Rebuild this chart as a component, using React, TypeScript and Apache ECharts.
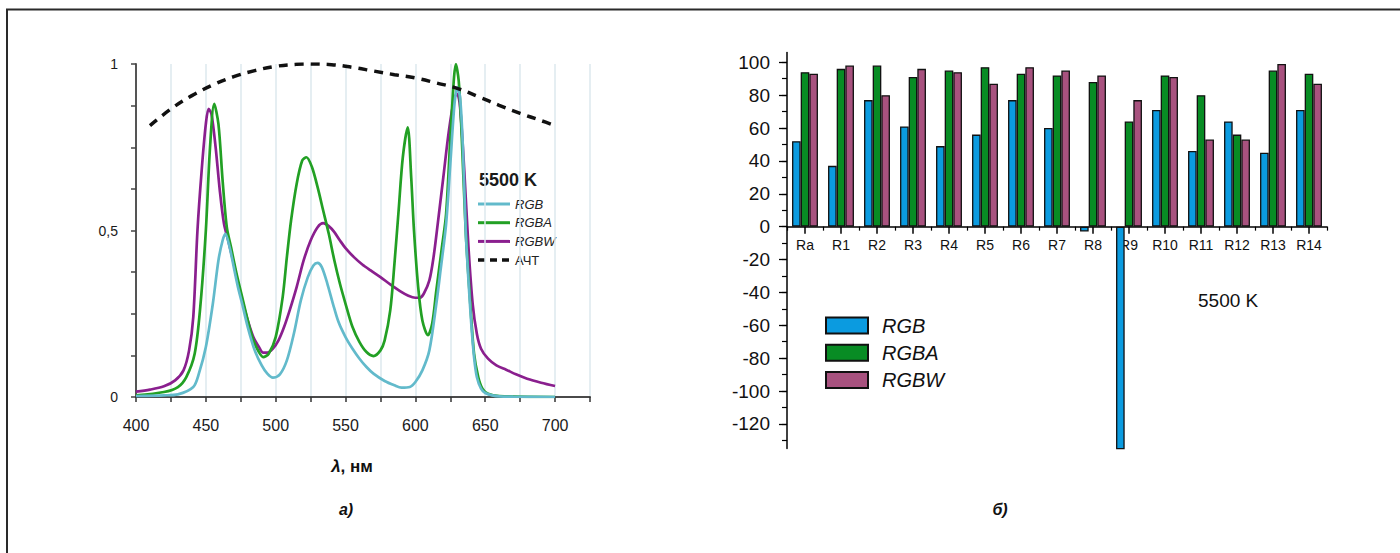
import React, { useEffect, useRef } from "react";
import * as echarts from "echarts";

// ---------- Spectra (left chart) ----------
const rgbWl = [400,420,430,441,445,450,455,459,462,464,467,470,473,476,480,485,490,494,498,503,508,513,518,523,527,530,533,537,541,545,550,555,560,565,570,578,585,590,596,600,605,610,615,618,622,625,628,630,632,634,636,638,640,642,644,647,650,655,660,670,700];
const rgbVal = [0.003,0.005,0.008,0.03,0.07,0.15,0.28,0.41,0.47,0.49,0.45,0.39,0.33,0.28,0.21,0.14,0.095,0.07,0.058,0.068,0.11,0.19,0.29,0.36,0.395,0.403,0.39,0.34,0.28,0.225,0.18,0.145,0.115,0.09,0.07,0.048,0.035,0.028,0.03,0.045,0.08,0.14,0.28,0.38,0.52,0.7,0.88,0.93,0.9,0.75,0.5,0.35,0.22,0.12,0.06,0.025,0.012,0.005,0.002,0.001,0];

const rgbaWl = [400,420,430,436,442,446,450,453,456,459,462,465,468,472,476,480,484,488,491,495,500,505,508,511,515,519,522,526,530,534,538,542,546,550,555,560,565,570,575,578,582,585,588,591,594.5,597,599,602,605,609,612,615,619,622,626,629,631,633,636,639,642,645,648,652,660,700];
const rgbaVal = [0.005,0.015,0.03,0.06,0.13,0.27,0.5,0.75,0.88,0.82,0.65,0.51,0.45,0.37,0.3,0.23,0.17,0.135,0.12,0.13,0.18,0.3,0.42,0.53,0.64,0.71,0.72,0.69,0.63,0.56,0.49,0.41,0.34,0.28,0.21,0.165,0.135,0.123,0.14,0.17,0.26,0.4,0.56,0.72,0.81,0.66,0.5,0.33,0.23,0.186,0.22,0.32,0.45,0.55,0.85,1.0,0.95,0.8,0.5,0.3,0.13,0.06,0.025,0.01,0.003,0];

const rgbwWl = [400,410,420,428,434,438,441,444,447,450,452,454,457,460,463,466,470,473,476,480,484,488,491,494,498,502,506,510,515,520,525,530,534,538,542,546,550,556,562,568,575,582,589,595,600,603,606,610,613,616,620,624,628,630,632,635,638,641,644,647,652,658,665,672,680,690,700];
const rgbwVal = [0.016,0.022,0.032,0.05,0.08,0.14,0.24,0.5,0.68,0.82,0.865,0.85,0.75,0.62,0.52,0.47,0.4,0.34,0.29,0.23,0.18,0.15,0.133,0.133,0.145,0.17,0.21,0.26,0.33,0.41,0.47,0.51,0.522,0.513,0.495,0.47,0.447,0.42,0.398,0.38,0.36,0.338,0.318,0.304,0.298,0.298,0.31,0.35,0.42,0.52,0.66,0.8,0.9,0.91,0.87,0.68,0.45,0.28,0.19,0.145,0.115,0.095,0.082,0.068,0.055,0.043,0.033];

const bbWl = [410,425,440,455,470,485,500,515,525,540,555,570,585,600,615,630,645,660,675,690,700];
const bbVal = [0.815,0.865,0.905,0.937,0.962,0.98,0.993,0.999,1.0,0.998,0.99,0.979,0.968,0.958,0.943,0.927,0.902,0.876,0.852,0.83,0.815];

const spectraLegend = ["RGB", "RGBA", "RGBW", "АЧТ"];

// ---------- Colour rendering indices (right chart) ----------
const categories = ["Ra","R1","R2","R3","R4","R5","R6","R7","R8","R9","R10","R11","R12","R13","R14"];
const rgbIdx = [52,37,77,61,49,56,77,60,-3,-137,71,46,64,45,71];
const rgbaIdx = [94,96,98,91,95,97,93,92,88,64,92,80,56,95,93];
const rgbwIdx = [93,98,80,96,94,87,97,95,92,77,91,53,53,99,87];
const majorTicks = [-120,-100,-80,-60,-40,-20,0,20,40,60,80,100];
const minorTicks = [-130,-120,-110,-100,-90,-80,-70,-60,-50,-40,-30,-20,-10,0,10,20,30,40,50,60,70,80,90,100];

const FONT = "Arial, 'Liberation Sans', Helvetica, sans-serif";
const C_RGB = "#62bacb";
const C_RGBA = "#22a024";
const C_RGBW = "#8a1f8e";
const C_BB = "#111";

const pairs = (xs: number[], ys: number[]) => xs.map((x, i) => [x, ys[i]]);

export default function App() {
  const ref = useRef<HTMLDivElement>(null);
  useEffect(() => {
    if (!ref.current) return;
    const chart = echarts.init(ref.current, null, { renderer: "svg" });
    const lineSeries = (name: string, xs: number[], ys: number[], color: string, width: number, z: number) => ({
      name,
      type: "line",
      xAxisIndex: 0,
      yAxisIndex: 0,
      data: pairs(xs, ys),
      smooth: 0.3,
      symbol: "none",
      showSymbol: false,
      z,
      lineStyle: { color, width },
      itemStyle: { color },
    });
    const barSeries = (name: string, data: number[], color: string) => ({
      name,
      type: "bar",
      xAxisIndex: 1,
      yAxisIndex: 1,
      data,
      barGap: "0%",
      barCategoryGap: "28%",
      itemStyle: { color, borderColor: "#111", borderWidth: 1.3 },
    });

    // left legend (manual, line samples + text)
    const legendColors = [C_RGB, C_RGBA, C_RGBW, C_BB];
    const legendGraphics: any[] = [];
    spectraLegend.forEach((name, i) => {
      const y = 204 + i * 18.7;
      legendGraphics.push({
        type: "line",
        shape: { x1: 478, y1: y, x2: 510, y2: y },
        style: {
          stroke: legendColors[i],
          lineWidth: i === 3 ? 3.5 : 3,
          lineDash: i === 3 ? [7, 5] : null,
        },
        silent: true,
      });
      legendGraphics.push({
        type: "text",
        x: 515,
        y,
        style: {
          text: name,
          font: `${i === 3 ? "" : "italic "}13px ${FONT}`,
          fill: "#222",
          align: "left",
          verticalAlign: "middle",
          textAlign: "left",
          textVerticalAlign: "middle",
        },
      });
    });

    const option: any = {
      animation: false,
      backgroundColor: "#fff",
      textStyle: { fontFamily: FONT },
      grid: [
        { left: 136, top: 64, width: 454, height: 333 },
        { left: 787, top: 52.4, width: 540, height: 396.2 },
      ],
      xAxis: [
        {
          gridIndex: 0,
          type: "value",
          min: 400,
          max: 725,
          interval: 25,
          axisLine: { lineStyle: { color: "#4a4a4a", width: 2 } },
          axisTick: { show: true, length: 5, lineStyle: { color: "#333", width: 1.5 } },
          axisLabel: {
            formatter: (v: number) => (v % 50 === 0 && v <= 700 ? String(v) : ""),
            fontSize: 16,
            margin: 20,
            color: "#1a1a1a",
            fontFamily: FONT,
          },
          splitLine: { show: true, lineStyle: { color: "#dce8ee", width: 1.5 } },
        },
        {
          // category labels, laid just under the zero line
          gridIndex: 1,
          type: "category",
          data: categories,
          position: "bottom",
          axisLine: { show: false, onZero: false },
          axisTick: { show: false },
          axisLabel: { fontSize: 14, margin: -211, color: "#111", fontFamily: FONT },
        },
        {
          // zero line with short ticks at category boundaries
          gridIndex: 1,
          type: "category",
          data: categories,
          position: "bottom",
          axisLine: { show: true, onZero: true, onZeroAxisIndex: 1, lineStyle: { color: "#000", width: 1.5 } },
          axisTick: { show: true, alignWithLabel: false, length: 4, lineStyle: { color: "#000", width: 1.2 } },
          axisLabel: { show: false },
        },
        {
          // longer ticks at category centres
          gridIndex: 1,
          type: "category",
          data: categories,
          position: "bottom",
          axisLine: { show: false, onZero: true, onZeroAxisIndex: 2 },
          axisTick: { show: true, alignWithLabel: true, length: 7, lineStyle: { color: "#000", width: 1.5 } },
          axisLabel: { show: false },
        },
      ],
      yAxis: [
        {
          gridIndex: 0,
          type: "value",
          min: 0,
          max: 1,
          interval: 0.125,
          axisLine: { show: true, lineStyle: { color: "#555", width: 2 } },
          axisTick: { show: true, length: 5, lineStyle: { color: "#444", width: 1.5 } },
          axisLabel: {
            formatter: (v: number) => (v === 0 ? "0" : v === 0.5 ? "0,5" : v === 1 ? "1" : ""),
            fontSize: 14,
            margin: 18,
            color: "#1a1a1a",
            padding: [6, 0, 0, 0],
            fontFamily: FONT,
          },
          splitLine: { show: false },
        },
        {
          gridIndex: 1,
          type: "value",
          position: "left",
          min: -135,
          max: 106,
          axisLine: { show: true, onZero: false, lineStyle: { color: "#000", width: 1.5 } },
          axisTick: { show: true, length: 8, customValues: majorTicks, lineStyle: { color: "#000", width: 1.3 } },
          axisLabel: { customValues: majorTicks, fontSize: 19, margin: 17, color: "#111", fontFamily: FONT },
          splitLine: { show: false },
        },
        {
          gridIndex: 1,
          type: "value",
          position: "left",
          min: -135,
          max: 106,
          axisLine: { show: false, onZero: false },
          axisTick: { show: true, length: 5, customValues: minorTicks, lineStyle: { color: "#000", width: 1.2 } },
          axisLabel: { show: false },
          splitLine: { show: false },
        },
      ],
      legend: [
        {
          data: ["bar:RGB", "bar:RGBA", "bar:RGBW"],
          formatter: (n: string) => n.replace("bar:", ""),
          orient: "vertical",
          left: 825,
          top: 315.5,
          icon: "rect",
          itemWidth: 42,
          itemHeight: 16,
          itemGap: 7.3,
          padding: 0,
          selectedMode: false,
          textStyle: { fontSize: 20, fontStyle: "italic", color: "#111", fontFamily: FONT, padding: [0, 0, 0, 9] },
        },
      ],
      series: [
        lineSeries("RGBW", rgbwWl, rgbwVal, C_RGBW, 2.7, 2),
        lineSeries("RGBA", rgbaWl, rgbaVal, C_RGBA, 2.7, 3),
        lineSeries("RGB", rgbWl, rgbVal, C_RGB, 2.7, 4),
        {
          name: "АЧТ",
          type: "line",
          xAxisIndex: 0,
          yAxisIndex: 0,
          data: pairs(bbWl, bbVal),
          smooth: 0.4,
          symbol: "none",
          showSymbol: false,
          z: 5,
          lineStyle: { color: C_BB, width: 3.5, type: [9, 7] },
          itemStyle: { color: C_BB },
        },
        barSeries("bar:RGB", rgbIdx, "#0b9be0"),
        barSeries("bar:RGBA", rgbaIdx, "#088c24"),
        barSeries("bar:RGBW", rgbwIdx, "#a8527f"),
      ],
      graphic: [
        {
          type: "polyline",
          shape: { points: [[7, 553], [7, 9.5], [1400, 9.5]] },
          style: { stroke: "#2a2a2a", lineWidth: 2, fill: "none" },
          silent: true,
        },
        {
          type: "text",
          x: 479,
          y: 180,
          style: { text: "5500 K", font: `bold 18px ${FONT}`, fill: "#1a1a1a", align: "left", verticalAlign: "middle", textAlign: "left", textVerticalAlign: "middle" },
        },
        ...legendGraphics,
        {
          type: "text",
          x: 1198,
          y: 300,
          style: { text: "5500 K", font: `19px ${FONT}`, fill: "#111", align: "left", verticalAlign: "middle", textAlign: "left", textVerticalAlign: "middle" },
        },
        {
          type: "text",
          x: 352,
          y: 466,
          style: {
            text: "{l|λ}, нм",
            font: `bold 17px ${FONT}`,
            fill: "#111",
            rich: { l: { fontStyle: "italic", fontWeight: "bold", fontSize: 17, fontFamily: FONT, fill: "#111" } },
            align: "center",
            verticalAlign: "middle",
            textAlign: "center",
            textVerticalAlign: "middle",
          },
        },
        {
          type: "text",
          x: 346,
          y: 509,
          style: { text: "а)", font: `italic bold 16px ${FONT}`, fill: "#111", align: "center", verticalAlign: "middle", textAlign: "center", textVerticalAlign: "middle" },
        },
        {
          type: "text",
          x: 1000,
          y: 509,
          style: { text: "б)", font: `italic bold 16px ${FONT}`, fill: "#111", align: "center", verticalAlign: "middle", textAlign: "center", textVerticalAlign: "middle" },
        },
      ],
    };
    chart.setOption(option);
    return () => chart.dispose();
  }, []);
  return (
    <div
      ref={ref}
      style={{ position: "absolute", left: 0, top: 0, width: 1400, height: 553, background: "#fff" }}
    />
  );
}
